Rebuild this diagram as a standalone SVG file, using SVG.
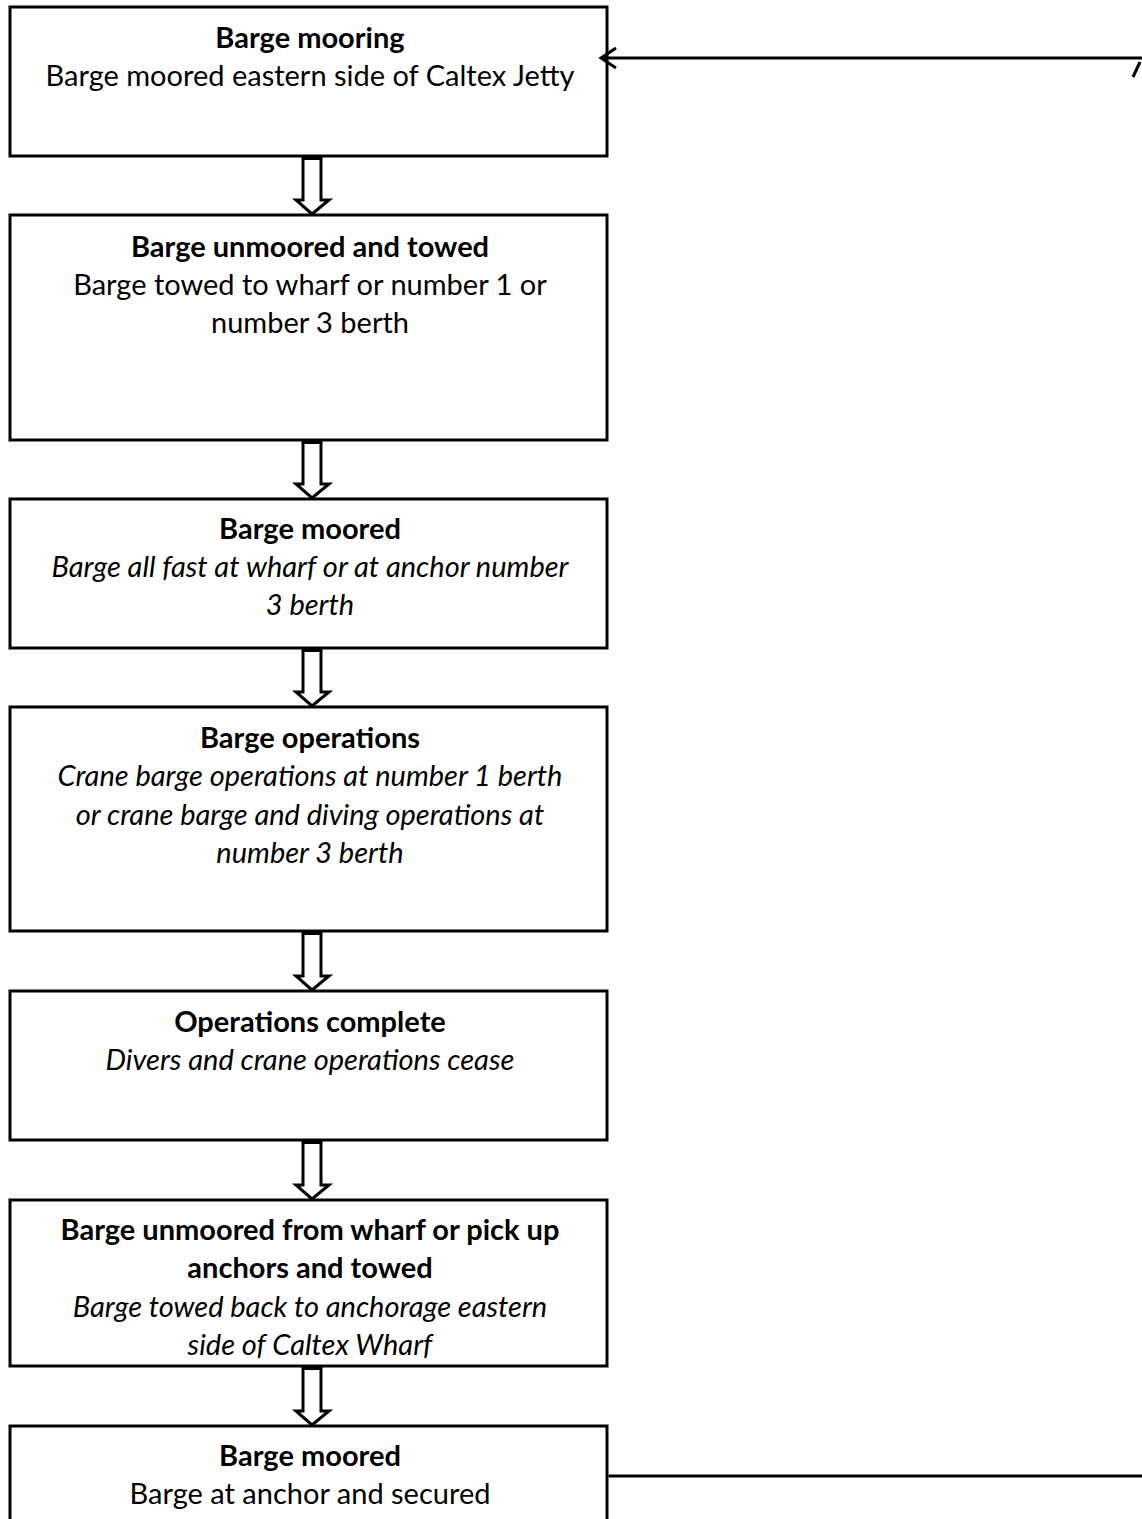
<svg xmlns="http://www.w3.org/2000/svg" width="1142" height="1519" viewBox="0 0 1142 1519">
<style>
.box{fill:#fff;stroke:#000;stroke-width:3}
.t{font-family:Lato,"Liberation Sans",sans-serif;font-size:29px;fill:#000;text-anchor:middle}
.b{font-weight:bold}
.i{font-style:italic}
.blk{fill:#fff;stroke:#000;stroke-width:3;stroke-linejoin:miter}
.ln{fill:none;stroke:#000;stroke-width:3}
</style>
<rect width="1142" height="1519" fill="#fff"/>
<g id="node1">
<rect class="box" x="10" y="7" width="597" height="149"/>
<text class="t b" x="310" y="48">Barge mooring</text>
<text class="t" x="310" y="86">Barge moored eastern side of Caltex Jetty</text>
</g>
<g id="node2">
<rect class="box" x="10" y="215" width="597" height="225"/>
<text class="t b" x="310" y="257">Barge unmoored and towed</text>
<text class="t" x="310" y="295">Barge towed to wharf or number 1 or</text>
<text class="t" x="310" y="333">number 3 berth</text>
</g>
<g id="node3">
<rect class="box" x="10" y="499" width="597" height="149"/>
<text class="t b" x="310" y="539">Barge moored</text>
<text class="t i" x="310" y="577">Barge all fast at wharf or at anchor number</text>
<text class="t i" x="310" y="615">3 berth</text>
</g>
<g id="node4">
<rect class="box" x="10" y="707" width="597" height="224"/>
<text class="t b" x="310" y="748">Barge operations</text>
<text class="t i" x="310" y="786">Crane barge operations at number 1 berth</text>
<text class="t i" x="310" y="825">or crane barge and diving operations at</text>
<text class="t i" x="310" y="863">number 3 berth</text>
</g>
<g id="node5">
<rect class="box" x="10" y="991" width="597" height="149"/>
<text class="t b" x="310" y="1032">Operations complete</text>
<text class="t i" x="310" y="1070">Divers and crane operations cease</text>
</g>
<g id="node6">
<rect class="box" x="10" y="1200" width="597" height="166"/>
<text class="t b" x="310" y="1240">Barge unmoored from wharf or pick up</text>
<text class="t b" x="310" y="1278">anchors and towed</text>
<text class="t i" x="310" y="1317">Barge towed back to anchorage eastern</text>
<text class="t i" x="310" y="1355">side of Caltex Wharf</text>
</g>
<g id="node7">
<rect class="box" x="10" y="1426" width="597" height="120"/>
<text class="t b" x="310" y="1466">Barge moored</text>
<text class="t" x="310" y="1504">Barge at anchor and secured</text>
</g>
<g id="connectors">
<path class="blk" d="M303,158.5 V200 H296 L312,214 L329,200 H321 V158.5 Z"/>
<path class="blk" d="M303,442.5 V484 H296 L312,498 L329,484 H321 V442.5 Z"/>
<path class="blk" d="M303,650.5 V692 H296 L312,706 L329,692 H321 V650.5 Z"/>
<path class="blk" d="M303,933.5 V976 H296 L312,990 L329,976 H321 V933.5 Z"/>
<path class="blk" d="M303,1142.5 V1185 H296 L312,1199 L329,1185 H321 V1142.5 Z"/>
<path class="blk" d="M303,1368.5 V1411 H296 L312,1425 L329,1411 H321 V1368.5 Z"/>
<path class="ln" d="M608.5,1476 H1142"/>
<path class="ln" d="M1142,58 H603"/>
<path class="ln" d="M616,48 L601,58 L616,68"/>
<path class="ln" d="M1133,77 L1140,62"/>
</g>
</svg>
